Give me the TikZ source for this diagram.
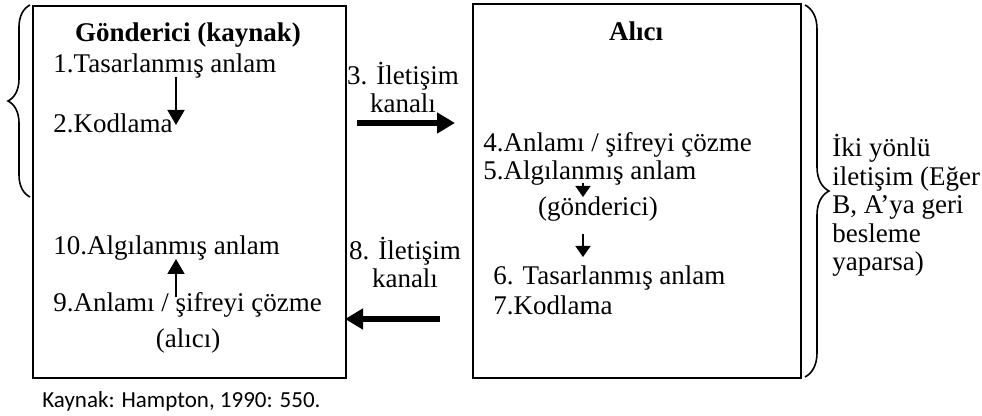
\documentclass[tikz,border=0pt]{standalone}
\usepackage{fontspec}
\setmainfont{Liberation Serif}
\newfontfamily\capfont{Carlito}
\usetikzlibrary{arrows.meta,decorations.pathreplacing}

\tikzset{
  box/.style={draw, line width=0.9pt, anchor=north west, inner sep=0pt},
  item/.style={anchor=base west, inner sep=0pt, font=\fontsize{13.5}{14.3}\selectfont},
  bold/.style={font=\fontsize{13.5}{14.3}\selectfont\bfseries},
  flow/.style={line width=0.8pt, -{Triangle[length=7.5pt,width=8.5pt]}},
  shortflow/.style={line width=0.8pt, -{Triangle[length=5.5pt,width=7.5pt]}},
  channel/.style={line width=3pt, -{Triangle[length=9pt,width=10pt]}},
  curly/.style={decorate, decoration={brace, amplitude=#1}, line width=0.8pt}
}

\begin{document}
\begin{tikzpicture}[x=0.5pt,y=-0.5pt]
  \useasboundingbox (0,0) rectangle (982,416);
  % the two parties
  \node[box, minimum width=156.5pt, minimum height=186pt] (sender) at (32,5) {};
  \node[box, minimum width=164pt, minimum height=187pt] (receiver) at (472,3) {};
  \begin{scope}[every node/.style={item}]
    \node[anchor=base, bold] (stitle) at (188,42) {Gönderici (kaynak)};
    \node (s1) at (53,73) {1.Tasarlanmış anlam};
    \node (s2) at (53,133) {2.Kodlama};
    \node (s10) at (53,255) {10.Algılanmış anlam};
    \node (s9) at (53,312) {9.Anlamı / şifreyi çözme};
    \node[anchor=base] (s9b) at (188,348) {(alıcı)};
    \node[anchor=base, bold] (rtitle) at (636,41) {Alıcı};
    \node (r4) at (483,152) {4.Anlamı / şifreyi çözme};
    \node (r5) at (483,180) {5.Algılanmış anlam};
    \node[anchor=base] (r5b) at (598,216) {(gönderici)};
    \node (r6) at (493,285) {6. Tasarlanmış anlam};
    \node (r7) at (493,315) {7.Kodlama};
    % multi-line nodes sit on the baseline of their last line
    \node[anchor=base, align=center] (ch3) at (403,113) {3. İletişim\\kanalı};
    \node[anchor=base, align=center] (ch8) at (405,288) {8. İletişim\\kanalı};
    \node[align=left] (twoway) at (832,271) {İki yönlü\\iletişim (Eğer\\B, A’ya geri\\besleme\\yaparsa)};
  \end{scope}
  \node[anchor=base west, inner sep=0pt, font=\capfont\fontsize{11.5}{13}\selectfont] (source) at (42,408) {Kaynak: Hampton, 1990: 550.};
  % arrow ends
  \coordinate (a1) at (176,77);  \coordinate (a2) at (176,125);
  \coordinate (b1) at (176,297); \coordinate (b2) at (176,259);
  \coordinate (c1) at (583,183); \coordinate (c2) at (583,197);
  \coordinate (d1) at (583,234); \coordinate (d2) at (583,257);
  \coordinate (k1) at (357,123); \coordinate (k2) at (455,123);
  \coordinate (m1) at (440,319); \coordinate (m2) at (345,319);
  \draw[flow] (a1) -- (a2);
  \draw[flow] (b1) -- (b2);
  \draw[shortflow] (c1) -- (c2);
  \draw[shortflow] (d1) -- (d2);
  \draw[channel] (k1) -- (k2);
  \draw[channel] (m1) -- (m2);
  % braces
  \coordinate (l1) at (30,197); \coordinate (l2) at (30,5);
  \coordinate (q1) at (805,5);  \coordinate (q2) at (805,377);
  \draw[curly=11pt] (l1) -- (l2);
  \draw[curly=12pt] (q1) -- (q2);
\end{tikzpicture}
\end{document}
